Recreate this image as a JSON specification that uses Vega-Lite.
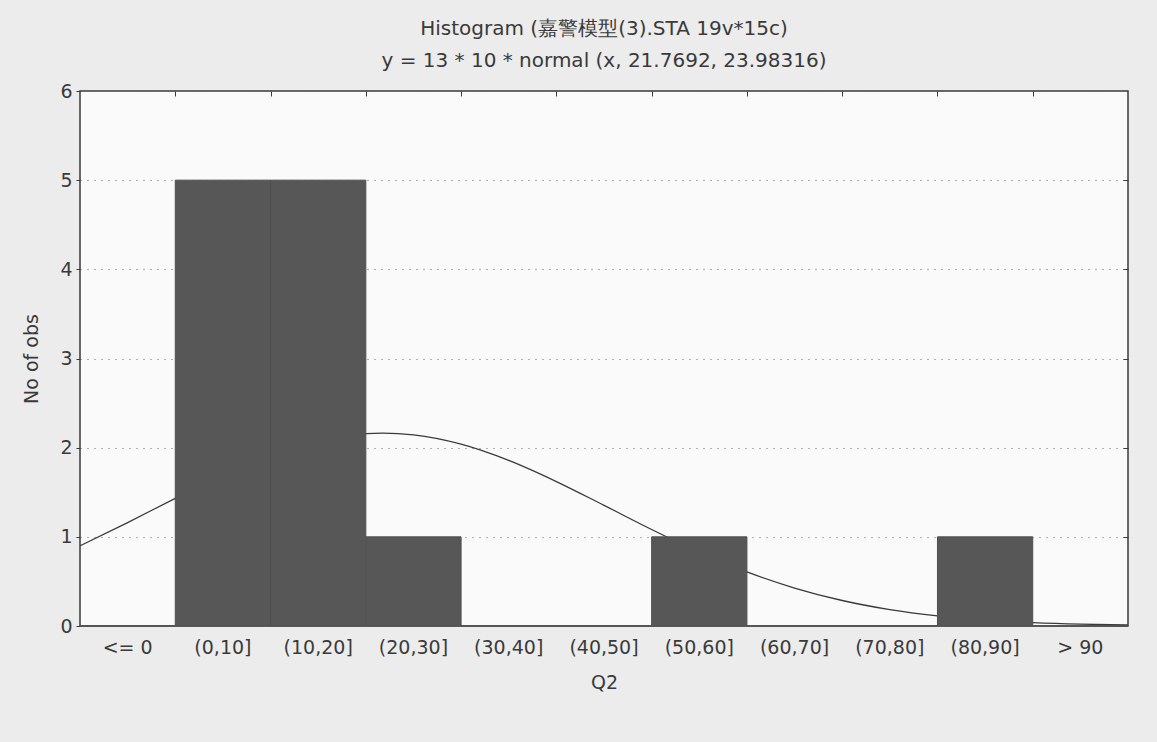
{
  "$schema": "https://vega.github.io/schema/vega-lite/v6.json",
  "width": 1048,
  "height": 535,
  "autosize": {"type": "none"},
  "padding": {"left": 80, "top": 91, "right": 29, "bottom": 116},
  "background": "#ececec",
  "title": {
    "text": ["Histogram (嘉警模型(3).STA 19v*15c)", "y = 13 * 10 * normal (x, 21.7692, 23.98316)"],
    "fontSize": 20,
    "font": "DejaVu Sans",
    "fontWeight": "normal",
    "color": "#3a3a3a",
    "lineHeight": 32,
    "offset": 11,
    "anchor": "middle"
  },
  "config": {
    "view": {"fill": "#fafafa", "stroke": "#3a3a3a", "strokeWidth": 1.5},
    "font": "DejaVu Sans",
    "axis": {"labelFont": "DejaVu Sans", "titleFont": "DejaVu Sans", "labelColor": "#3a3a3a", "titleColor": "#3a3a3a", "labelFontSize": 19, "titleFontSize": 19, "titleFontWeight": "normal", "tickColor": "#3a3a3a"}
  },
  "datasets": {
    "bins": [
      {"bin": "<= 0", "count": 0},
      {"bin": "(0,10]", "count": 5},
      {"bin": "(10,20]", "count": 5},
      {"bin": "(20,30]", "count": 1},
      {"bin": "(30,40]", "count": 0},
      {"bin": "(40,50]", "count": 0},
      {"bin": "(50,60]", "count": 1},
      {"bin": "(60,70]", "count": 0},
      {"bin": "(70,80]", "count": 0},
      {"bin": "(80,90]", "count": 1},
      {"bin": "> 90", "count": 0}
    ],
    "curve": [
      {"x": -10, "y": 0.899},
      {"x": -5, "y": 1.160},
      {"x": 0, "y": 1.432},
      {"x": 5, "y": 1.694},
      {"x": 10, "y": 1.917},
      {"x": 15, "y": 2.078},
      {"x": 20, "y": 2.157},
      {"x": 21.77, "y": 2.162},
      {"x": 25, "y": 2.143},
      {"x": 30, "y": 2.039},
      {"x": 35, "y": 1.857},
      {"x": 40, "y": 1.620},
      {"x": 45, "y": 1.353},
      {"x": 50, "y": 1.082},
      {"x": 55, "y": 0.828},
      {"x": 60, "y": 0.607},
      {"x": 65, "y": 0.426},
      {"x": 70, "y": 0.286},
      {"x": 75, "y": 0.184},
      {"x": 80, "y": 0.114},
      {"x": 85, "y": 0.067},
      {"x": 90, "y": 0.038},
      {"x": 95, "y": 0.020},
      {"x": 100, "y": 0.011}
    ]
  },
  "layer": [
    {
      "data": {"name": "curve"},
      "mark": {"type": "line", "color": "#3a3a3a", "strokeWidth": 1.3, "interpolate": "monotone"},
      "encoding": {
        "x": {
          "field": "x", "type": "quantitative",
          "scale": {"domain": [-10, 100], "nice": false, "zero": false},
          "axis": {"orient": "top", "labels": false, "domain": false, "grid": false, "title": null, "values": [0, 10, 20, 30, 40, 50, 60, 70, 80, 90], "tickSize": -5}
        },
        "y": {
          "field": "y", "type": "quantitative",
          "scale": {"domain": [0, 6], "nice": false},
          "axis": {"orient": "right", "labels": false, "domain": false, "grid": false, "title": null, "values": [1, 2, 3, 4, 5], "tickSize": -5}
        }
      }
    },
    {
      "data": {"name": "bins"},
      "mark": {"type": "bar", "fill": "#575757", "stroke": "#505050", "strokeWidth": 1},
      "encoding": {
        "x": {
          "field": "bin", "type": "nominal",
          "sort": ["<= 0", "(0,10]", "(10,20]", "(20,30]", "(30,40]", "(40,50]", "(50,60]", "(60,70]", "(70,80]", "(80,90]", "> 90"],
          "scale": {"paddingInner": 0, "paddingOuter": 0},
          "axis": {"title": "Q2", "labelAngle": 0, "ticks": false, "domain": false, "labelPadding": 12, "titlePadding": 16}
        },
        "y": {
          "field": "count", "type": "quantitative",
          "scale": {"domain": [0, 6], "nice": false},
          "axis": {"title": "No of obs", "values": [0, 1, 2, 3, 4, 5, 6], "domain": false, "grid": true, "gridDash": [1, 6], "gridColor": "#666666", "gridWidth": 1.2, "tickSize": 4, "labelPadding": 4, "titlePadding": 18}
        }
      }
    }
  ],
  "resolve": {"scale": {"x": "independent"}, "axis": {"x": "independent", "y": "independent"}}
}
